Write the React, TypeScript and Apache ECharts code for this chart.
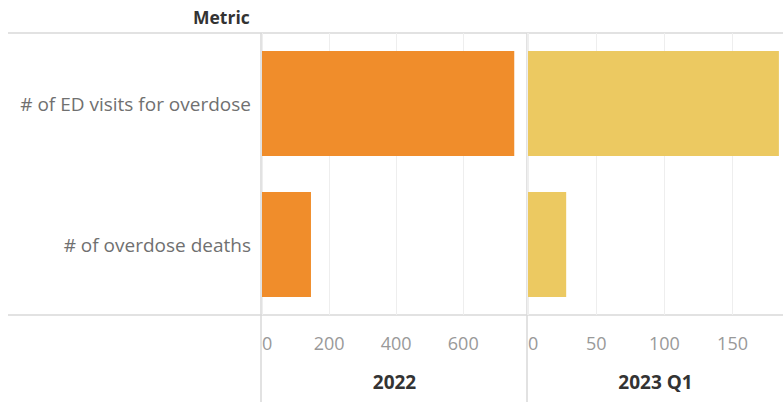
import React, { useEffect, useRef } from "react";
import * as echarts from "echarts";

const metrics = ["# of ED visits for overdose", "# of overdose deaths"];
const values2022 = [752, 146];
const values2023Q1 = [184, 28];
const periods = ["2022", "2023 Q1"];
const ticks2022 = [0, 200, 400, 600];
const ticks2023 = [0, 50, 100, 150];

const FONT = "'Open Sans', 'Noto Sans', sans-serif";
const ORANGE = "#F08D2B";
const YELLOW = "#ECC961";

export default function App() {
  const ref = useRef<HTMLDivElement>(null);
  useEffect(() => {
    if (!ref.current) return;
    const chart = echarts.init(ref.current, null, { renderer: "svg" });
    const lineColor = "#d9d9d9";
    const gridColor = "#eeeeee";
    const catAxis = (idx: number, show: boolean) => ({
      type: "category",
      gridIndex: idx,
      data: metrics,
      inverse: true,
      axisLine: { show: false },
      axisTick: { show: false },
      axisLabel: {
        show,
        fontFamily: FONT,
        fontSize: 19,
        color: "#707070",
        margin: 11,
      },
    });
    const valAxis = (idx: number, max: number, interval: number, name: string) => ({
      type: "value",
      gridIndex: idx,
      min: 0,
      max,
      interval,
      name,
      nameLocation: "middle",
      nameGap: 57,
      nameTextStyle: { fontFamily: FONT, fontSize: 19, fontWeight: "bold", color: "#333" },
      axisLine: { show: false },
      axisTick: { show: false },
      splitLine: { show: true, lineStyle: { color: gridColor, width: 1 } },
      axisLabel: {
        fontFamily: FONT,
        fontSize: 18,
        color: "#999",
        margin: 19,
        showMaxLabel: false,
        alignMinLabel: "left",
      },
    });
    chart.setOption({
      animation: false,
      grid: [
        { left: 262, right: 256, top: 33, bottom: 87 },
        { left: 528, right: 0, top: 33, bottom: 87 },
      ],
      xAxis: [
        valAxis(0, 790, 200, periods[0]),
        valAxis(1, 187, 50, periods[1]),
      ],
      yAxis: [catAxis(0, true), catAxis(1, false)],
      series: [
        {
          type: "bar",
          xAxisIndex: 0,
          yAxisIndex: 0,
          data: values2022,
          barWidth: 105,
          itemStyle: { color: ORANGE },
        },
        {
          type: "bar",
          xAxisIndex: 1,
          yAxisIndex: 1,
          data: values2023Q1,
          barWidth: 105,
          itemStyle: { color: YELLOW },
        },
      ],
      graphic: [
        {
          type: "text",
          left: 193,
          top: 8,
          style: { text: "Metric", fontFamily: FONT, fontSize: 17.5, fontWeight: "bold", fill: "#333" },
        },
        { type: "line", shape: { x1: 8, y1: 33, x2: 783, y2: 33 }, style: { stroke: lineColor, lineWidth: 1.5 } },
        { type: "line", shape: { x1: 8, y1: 315, x2: 783, y2: 315 }, style: { stroke: lineColor, lineWidth: 1.5 } },
        { type: "line", shape: { x1: 261, y1: 33, x2: 261, y2: 402 }, style: { stroke: lineColor, lineWidth: 1.5 } },
        { type: "line", shape: { x1: 527, y1: 33, x2: 527, y2: 402 }, style: { stroke: lineColor, lineWidth: 1.5 } },
      ],
    });
    return () => chart.dispose();
  }, []);
  return <div ref={ref} style={{ width: 783, height: 402, position: "absolute", left: 0, top: 0 }} />;
}
